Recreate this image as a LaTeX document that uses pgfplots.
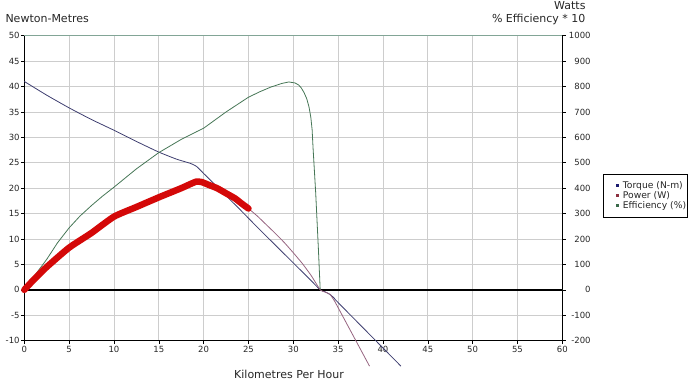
\documentclass[border=0pt]{standalone}
\usepackage{fontspec}
\setmainfont{DejaVu Sans}
\usepackage{pgfplots}
\pgfplotsset{compat=1.18}
\definecolor{gridc}{RGB}{205,205,205}
\definecolor{torquec}{RGB}{62,62,112}
\definecolor{powerc}{RGB}{150,100,128}
\definecolor{effc}{RGB}{70,118,86}
\definecolor{redc}{RGB}{212,8,8}
\definecolor{topc}{RGB}{130,165,150}
\definecolor{legnavy}{RGB}{28,28,112}
\definecolor{legred}{RGB}{140,48,64}
\definecolor{leggreen}{RGB}{58,106,74}
\begin{document}
\begin{tikzpicture}[font=\fontsize{8.5bp}{10bp}\selectfont]
\useasboundingbox (-24.3bp,-41bp) rectangle (675.7bp,340.7bp);
\begin{axis}[
  at={(0,0)}, anchor=south west,
  scale only axis, width=538bp, height=305bp,
  xmin=0, xmax=60, ymin=-10, ymax=50,
  xtick={0,5,...,60}, ytick={-10,-5,...,50},
  axis x line*=bottom, axis y line*=left,
  grid=major, grid style={color=gridc, line width=0.8bp},
  axis line style={black, line width=0.8bp, -},
  tick align=outside, major tick length=3.5bp,
  tick style={black, line width=0.6bp},
  xticklabel style={inner sep=0pt, anchor=north, yshift=-2bp, text=black!85},
  yticklabel style={inner sep=0pt, anchor=east, xshift=-1bp, text=black!85},
  /pgf/number format/assume math mode=true,
  clip=false,
]
\addplot[torquec, line width=0.8bp, forget plot, smooth, tension=0.3] coordinates {
 (0,41.0) (2.5,38.3) (5,35.8) (7.5,33.5) (10,31.4) (12.5,29.2) (15,27.1)
 (17,25.7) (18.5,24.9) (19.2,24.3) (20,22.9) (22,19.4) (24,15.9) (26,12.3)
 (28,8.8) (30,5.3) (32,1.8) (33,0) (33.5,-0.35) (34.1,-0.9) (34.6,-1.7)
 (35,-2.5) (42,-15.0)
};
\draw[topc, line width=1.2bp] (rel axis cs:0,1) -- (rel axis cs:1,1);
\end{axis}
\begin{axis}[
  at={(0,0)}, anchor=south west,
  scale only axis, width=538bp, height=305bp,
  xmin=0, xmax=60, ymin=-200, ymax=1000,
  ytick={-200,-100,...,1000},
  axis x line=none, axis y line*=right,
  axis line style={black, line width=0.8bp, -},
  tick align=outside, major tick length=3.5bp,
  tick style={black, line width=0.6bp},
  yticklabel style={inner sep=0pt, anchor=east, xshift=25bp, text=black!85,
    /pgf/number format/1000 sep={}},
  /pgf/number format/assume math mode=true,
  clip=false,
  legend image code/.code={
    \path[draw=none, fill=none] (0bp,0bp) -- (18bp,0bp);
    \fill[#1, draw=none] (11.5bp,-1.6bp) rectangle (14.7bp,1.6bp);
  },
  legend style={at={(1.0757,0.5475)}, anchor=north west, draw=black,
    line width=0.6bp, font=\fontsize{9.2bp}{10bp}\selectfont,
    inner xsep=1bp, inner ysep=6.5bp, row sep=0.5bp,
    nodes={inner sep=0.6bp, text=black!85}},
  legend cell align=left,
]
\addlegendimage{legnavy}
\addlegendentry{Torque (N-m)}
\addlegendimage{legred}
\addlegendentry{Power (W)}
\addlegendimage{leggreen}
\addlegendentry{Efficiency (\%)\hspace{5bp}}
% efficiency (% * 10)
\addplot[effc, line width=0.8bp, forget plot, line join=round] coordinates {
 (0,0) (0.7,35) (1.4,68) (2.5,120) (3.7,185) (5,244) (6.2,290) (7.5,332)
 (8.7,368) (10,404) (12.5,476) (15,540) (17.5,592) (19.3,624) (20,636)
 (22.5,700) (25,758) (26.3,780) (27.5,798) (28.7,812) (29.5,818) (30.2,814)
 (30.6,806) (30.9,794) (31.2,776) (31.5,752) (31.75,720) (31.95,680)
 (32.1,630) (32.2,560) (32.35,470) (32.5,380) (32.8,160) (33,0) (60,0)
};
% zero line
\addplot[black, line width=1.4bp, forget plot] coordinates {(0,0) (60,0)};
% power thin continuation
\addplot[powerc, line width=0.8bp, forget plot, smooth, tension=0.3] coordinates {
 (25,320) (26,290) (27,256) (28,222) (29,186) (30,146) (31,104) (32,56)
 (33,0) (33.5,-8) (34.1,-18) (34.6,-44) (35,-70) (38.5,-300)
};
% power thick
\addplot[redc, line width=6.5bp, line cap=round, line join=round, forget plot, smooth, tension=0.35] coordinates {
 (0,0) (1,38) (2.5,90) (5,166) (7.5,224) (10,288) (12.5,326) (15,364)
 (17.5,400) (18.5,416) (19.2,426) (19.8,424) (20.5,414) (21.5,400)
 (22.5,380) (23.5,360) (24.3,338) (25,320)
};
\end{axis}
\node[anchor=base west, font=\fontsize{11bp}{12bp}\selectfont, text=black!85] at (-22.3bp,318bp) {Newton-Metres};
\node[anchor=base east, font=\fontsize{11bp}{12bp}\selectfont, text=black!85] at (564.7bp,331.5bp) {Watts};
\node[anchor=base east, font=\fontsize{11bp}{12bp}\selectfont, text=black!85] at (564.7bp,318bp) {\% Efficiency * 10};
\node[anchor=base, font=\fontsize{11bp}{12bp}\selectfont, text=black!85] at (264.7bp,-38bp) {Kilometres Per Hour};
\end{tikzpicture}
\end{document}
